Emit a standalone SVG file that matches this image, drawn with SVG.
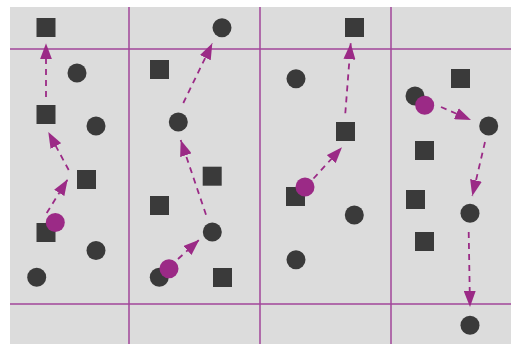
<svg xmlns="http://www.w3.org/2000/svg" width="511" height="344" viewBox="0 0 511 344">
<style>
.bg{fill:#dcdcdc}
.grid{stroke:#a2469a;stroke-width:1.5;fill:none}
.sq{fill:#3a3a3a}
.dot{fill:#3a3a3a}
.agent{fill:#9b2a86}
.arr{stroke:#9b2a86;stroke-width:1.8;fill:none;stroke-dasharray:6 5;marker-end:url(#ah)}
</style>
<defs>
<marker id="ah" markerUnits="userSpaceOnUse" markerWidth="16" markerHeight="12" refX="16" refY="6" orient="auto">
<path d="M0,0 L16,6 L0,12 z" fill="#9b2a86"/>
</marker>
</defs>
<rect class="bg" x="10" y="7" width="501" height="337"/>
<g id="grid">
<line class="grid" x1="10" y1="49" x2="511" y2="49"/>
<line class="grid" x1="10" y1="304" x2="511" y2="304"/>
<line class="grid" x1="129" y1="7" x2="129" y2="344"/>
<line class="grid" x1="260" y1="7" x2="260" y2="344"/>
<line class="grid" x1="391" y1="7" x2="391" y2="344"/>
</g>
<!-- column 1 -->
<g id="c1-sq1"><rect class="sq" x="36.5" y="18" width="19" height="19"/></g>
<g id="c1-dot1"><circle class="dot" cx="77" cy="73" r="9.5"/></g>
<g id="c1-sq2"><rect class="sq" x="36.5" y="105" width="19" height="19"/></g>
<g id="c1-dot2"><circle class="dot" cx="96" cy="126" r="9.5"/></g>
<g id="c1-sq3"><rect class="sq" x="77" y="170" width="19" height="19"/></g>
<g id="c1-sq4"><rect class="sq" x="36.5" y="223" width="19" height="19"/></g>
<g id="c1-agent"><circle class="agent" cx="55.3" cy="222.5" r="9.5"/></g>
<g id="c1-dot3"><circle class="dot" cx="96" cy="250.5" r="9.5"/></g>
<g id="c1-dot4"><circle class="dot" cx="36.7" cy="277.3" r="9.5"/></g>
<!-- column 2 -->
<g id="c2-dot1"><circle class="dot" cx="222" cy="27.7" r="9.5"/></g>
<g id="c2-sq1"><rect class="sq" x="150" y="60" width="19" height="19"/></g>
<g id="c2-dot2"><circle class="dot" cx="178.3" cy="122" r="9.5"/></g>
<g id="c2-sq2"><rect class="sq" x="202.7" y="166.7" width="19" height="19"/></g>
<g id="c2-sq3"><rect class="sq" x="150" y="196" width="19" height="19"/></g>
<g id="c2-dot3"><circle class="dot" cx="212.3" cy="232" r="9.5"/></g>
<g id="c2-dot4"><circle class="dot" cx="159.3" cy="277.3" r="9.5"/></g>
<g id="c2-agent"><circle class="agent" cx="169" cy="268.7" r="9.5"/></g>
<g id="c2-sq4"><rect class="sq" x="213" y="268" width="19" height="19"/></g>
<!-- column 3 -->
<g id="c3-sq1"><rect class="sq" x="345" y="18" width="19" height="19"/></g>
<g id="c3-dot1"><circle class="dot" cx="296" cy="78.7" r="9.5"/></g>
<g id="c3-sq2"><rect class="sq" x="336" y="122" width="19" height="19"/></g>
<g id="c3-sq3"><rect class="sq" x="286" y="187" width="19" height="19"/></g>
<g id="c3-agent"><circle class="agent" cx="305" cy="187" r="9.5"/></g>
<g id="c3-dot2"><circle class="dot" cx="354.3" cy="215" r="9.5"/></g>
<g id="c3-dot3"><circle class="dot" cx="296" cy="259.7" r="9.5"/></g>
<!-- column 4 -->
<g id="c4-sq1"><rect class="sq" x="451" y="69" width="19" height="19"/></g>
<g id="c4-dot1"><circle class="dot" cx="415" cy="96" r="9.5"/></g>
<g id="c4-agent"><circle class="agent" cx="424.7" cy="105.3" r="9.5"/></g>
<g id="c4-dot2"><circle class="dot" cx="488.7" cy="126" r="9.5"/></g>
<g id="c4-sq2"><rect class="sq" x="415" y="141" width="19" height="19"/></g>
<g id="c4-sq3"><rect class="sq" x="406" y="190" width="19" height="19"/></g>
<g id="c4-dot3"><circle class="dot" cx="470" cy="213.3" r="9.5"/></g>
<g id="c4-sq4"><rect class="sq" x="415" y="232" width="19" height="19"/></g>
<g id="c4-dot4"><circle class="dot" cx="470" cy="325.3" r="9.5"/></g>
<g id="connectors">
<line class="arr" x1="46.7" y1="213" x2="67.7" y2="179.3"/>
<line class="arr" x1="68.7" y1="170" x2="48.3" y2="132"/>
<line class="arr" x1="46" y1="97" x2="46" y2="43.3"/>
<line class="arr" x1="178" y1="259" x2="199.3" y2="239.7"/>
<line class="arr" x1="206" y1="214.7" x2="180.7" y2="140"/>
<line class="arr" x1="183.3" y1="103" x2="212.3" y2="43.3"/>
<line class="arr" x1="313.5" y1="178.5" x2="342" y2="147.3"/>
<line class="arr" x1="345.3" y1="113.3" x2="350.7" y2="43.3"/>
<line class="arr" x1="441" y1="107" x2="471" y2="120"/>
<line class="arr" x1="485" y1="142" x2="472.3" y2="196"/>
<line class="arr" x1="468.7" y1="232" x2="470" y2="307"/>
</g>
</svg>
